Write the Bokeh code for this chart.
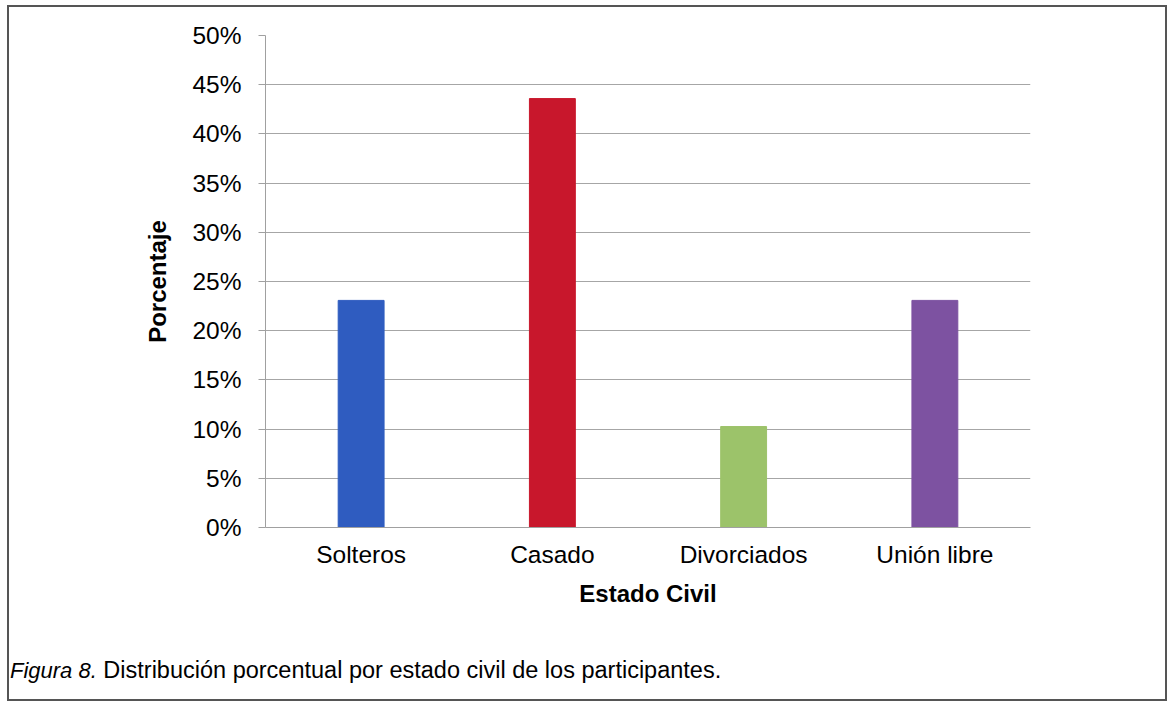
from bokeh.plotting import figure
from bokeh.models import ColumnDataSource, FactorRange, Range1d, FixedTicker, Div
from bokeh.layouts import column
from bokeh.embed import file_html
from bokeh.resources import INLINE

categories = ["Solteros", "Casado", "Divorciados", "Unión libre"]
values = [0.2308, 0.4359, 0.1026, 0.2308]
bar_colors = ["#2F5CC0", "#C8172C", "#9CC36A", "#7D52A1"]
y_ticks = [0.0, 0.05, 0.10, 0.15, 0.20, 0.25, 0.30, 0.35, 0.40, 0.45, 0.50]
y_tick_labels = ["0%", "5%", "10%", "15%", "20%", "25%", "30%", "35%", "40%", "45%", "50%"]
x_title = "Estado Civil"
y_title = "Porcentaje"
caption_italic = "Figura 8."
caption_text = "Distribución porcentual por estado civil de los participantes."

FONT = "Liberation Sans"
W_IN, H_IN = 1156, 692      # inside the outer border
FIG_H = 625
FL, FR, FT, FB = 256, 1021, 28, 520   # frame edges inside the figure

source = ColumnDataSource(dict(cat=categories, val=values, color=bar_colors))

fig = figure(width=W_IN, height=FIG_H, output_backend="svg", toolbar_location=None,
             x_range=FactorRange(*categories, range_padding=0),
             y_range=Range1d(0, 0.5),
             min_border_left=FL, min_border_right=W_IN - FR,
             min_border_top=FT, min_border_bottom=FIG_H - FB)
fig.outline_line_color = None
fig.background_fill_color = "white"
fig.border_fill_color = "white"

fig.vbar(x="cat", top="val", width=0.24, color="color", source=source)

# grid
fig.xgrid.grid_line_color = None
fig.ygrid.grid_line_color = "#A6A6A6"
fig.ygrid.grid_line_width = 1
fig.ygrid.ticker = FixedTicker(ticks=y_ticks)

# y axis
fig.yaxis.ticker = FixedTicker(ticks=y_ticks)
fig.yaxis.major_label_overrides = {t: l for t, l in zip(y_ticks, y_tick_labels)}
fig.yaxis.axis_line_color = "#A0A0A0"
fig.yaxis.major_tick_line_color = "#A0A0A0"
fig.yaxis.major_tick_out = 7
fig.yaxis.major_tick_in = 0
fig.yaxis.minor_tick_line_color = None
fig.yaxis.major_label_text_font = FONT
fig.yaxis.major_label_text_font_size = "24.5px"
fig.yaxis.major_label_text_color = "black"
fig.yaxis.major_label_standoff = 17
fig.yaxis.axis_label = y_title
fig.yaxis.axis_label_text_font = FONT
fig.yaxis.axis_label_text_font_size = "24px"
fig.yaxis.axis_label_text_font_style = "bold"
fig.yaxis.axis_label_text_color = "black"
fig.yaxis.axis_label_standoff = 18

# x axis
fig.xaxis.axis_line_color = "#A0A0A0"
fig.xaxis.major_tick_line_color = None
fig.xaxis.minor_tick_line_color = None
fig.xaxis.major_tick_out = 0
fig.xaxis.major_tick_in = 0
fig.xaxis.major_label_text_font = FONT
fig.xaxis.major_label_text_font_size = "24.5px"
fig.xaxis.major_label_text_color = "black"
fig.xaxis.major_label_standoff = 13
fig.xaxis.axis_label = x_title
fig.xaxis.axis_label_text_font = FONT
fig.xaxis.axis_label_text_font_size = "24px"
fig.xaxis.axis_label_text_font_style = "bold"
fig.xaxis.axis_label_text_color = "black"
fig.xaxis.axis_label_standoff = 9

# caption (transparent so it never hides the outer border)
caption_html = (
    '<div style="padding:20px 0 0 0; margin-left:-4px; '
    'font-family:\'Liberation Sans\', Arial, sans-serif; '
    'font-size:23.5px; line-height:1.15; color:black; white-space:nowrap;">'
    '<i style="font-size:22px">' + caption_italic + '</i> ' + caption_text + '</div>'
)
caption = Div(text=caption_html, width=W_IN, height=H_IN - FIG_H)

p = column(fig, caption, spacing=0, width=W_IN + 4, height=H_IN + 4,
           styles={"border": "2px solid #555555", "background-color": "white",
                   "box-sizing": "border-box",
                   "margin-left": "7px", "margin-top": "5px"})

open("out.html", "w").write(file_html(p, INLINE))
